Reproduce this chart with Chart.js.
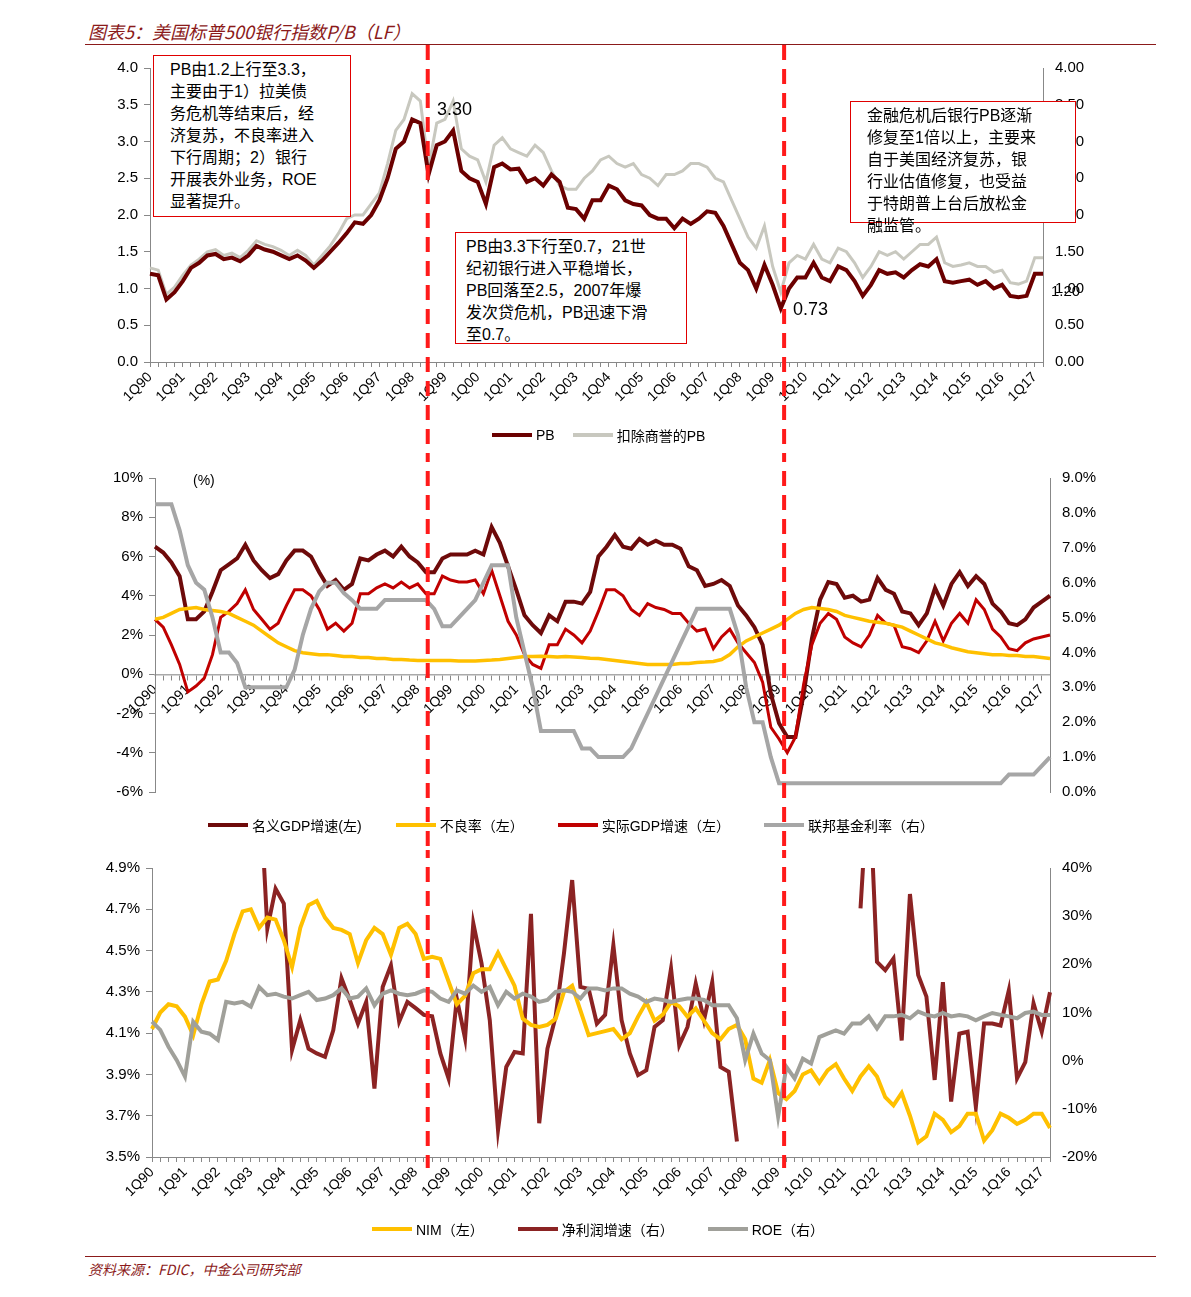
<!DOCTYPE html>
<html>
<head>
<meta charset="utf-8">
<script src="https://cdn.jsdelivr.net/npm/chart.js@4"></script>
<style>
  body { margin: 0; background: #fff; font-family: "Liberation Sans", Arial, "Noto Sans CJK SC", sans-serif; }
  #page { position: relative; width: 1191px; height: 1297px; overflow: hidden; }
  .cv { position: absolute; left: 0; width: 1191px; }
  .title { position: absolute; left: 88px; top: 18px; font-size: 18px; font-style: italic; color: #8b1a1a; font-family: "Noto Sans CJK SC", sans-serif; }
  .rule { position: absolute; left: 85px; width: 1071px; height: 0; border-top: 1px solid #8b1a1a; }
  .src { position: absolute; left: 88px; top: 1259px; font-size: 14px; font-style: italic; color: #8b1a1a; font-family: "Noto Sans CJK SC", sans-serif; }
  .note { position: absolute; background: #fff; border: 1px solid #e00000; font-size: 16px; line-height: 22px; padding: 3px 0 0 16px; box-sizing: border-box; white-space: nowrap; font-family: "Liberation Sans", "Noto Sans CJK SC", sans-serif; z-index: 5; }
  .lbl { position: absolute; font-size: 18px; z-index: 4; }
  .legend { position: absolute; font-size: 14px; display: flex; align-items: center; font-family: "Liberation Sans", "Noto Sans CJK SC", sans-serif; }
  .legend span.sw { display: inline-block; width: 40px; height: 4px; margin-right: 4px; }
</style>
</head>
<body>
<div id="page">
  <div class="title">图表5：美国标普500银行指数P/B（LF）</div>
  <div class="rule" style="top:44px"></div>
  <canvas id="c1" class="cv" style="top:45px"></canvas>
  <canvas id="c2" class="cv" style="top:460px"></canvas>
  <canvas id="c3" class="cv" style="top:850px"></canvas>

  <div class="note" style="left:153px;top:55px;width:198px;height:162px">PB由1.2上行至3.3，<br>主要由于1）拉美债<br>务危机等结束后，经<br>济复苏，不良率进入<br>下行周期；2）银行<br>开展表外业务，ROE<br>显著提升。</div>
  <div class="note" style="left:455px;top:232px;width:232px;height:112px;padding-left:10px">PB由3.3下行至0.7，21世<br>纪初银行进入平稳增长，<br>PB回落至2.5，2007年爆<br>发次贷危机，PB迅速下滑<br>至0.7。</div>
  <div class="note" style="left:850px;top:101px;width:226px;height:122px;overflow:visible;padding-left:16px">金融危机后银行PB逐渐<br>修复至1倍以上，主要来<br>自于美国经济复苏，银<br>行业估值修复，也受益<br>于特朗普上台后放松金<br>融监管。</div>
  <div class="lbl" style="left:437px;top:99px">3.30</div>
  <div class="lbl" style="left:793px;top:299px">0.73</div>
  <div class="lbl" style="left:1051px;top:282px;font-size:15px">1.20</div>
  <div class="lbl" style="left:193px;top:472px;font-size:14px">(%)</div>

  <div class="legend" style="left:492px;top:425px">
    <span class="sw" style="background:#6b0000"></span>PB
    <span class="sw" style="background:#c8c8bf;margin-left:18px"></span>扣除商誉的PB
  </div>
  <div class="legend" style="left:208px;top:815px">
    <span class="sw" style="background:#6e0a0a"></span>名义GDP增速(左)
    <span class="sw" style="background:#ffc000;margin-left:34px"></span>不良率（左）
    <span class="sw" style="background:#c00000;margin-left:34px"></span>实际GDP增速（左）
    <span class="sw" style="background:#a6a6a6;margin-left:34px"></span>联邦基金利率（右）
  </div>
  <div class="legend" style="left:372px;top:1219px">
    <span class="sw" style="background:#ffc000"></span>NIM（左）
    <span class="sw" style="background:#8b2323;margin-left:34px"></span>净利润增速（右）
    <span class="sw" style="background:#a0a09a;margin-left:34px"></span>ROE（右）
  </div>

  <div class="rule" style="top:1256px"></div>
  <div class="src">资料来源：FDIC，中金公司研究部</div>
</div>
<script>
'use strict';

// quarter categories 1Q90 .. 2Q17
const quarters = [];
for (let y = 1990; y <= 2017; y++) {
    for (let q = 1; q <= 4; q++) {
        if (y === 2017 && q > 2) break;
        quarters.push(q + 'Q' + String(y).slice(2));
    }
}
// positions of the red dashed crisis markers (category index on the P/B panel)
const crisisIdx = [33.9, 77.4];

const pb = [
    1.2,1.18,0.85,0.95,1.1,1.28,1.35,1.45,1.47,1.4,
    1.42,1.37,1.45,1.58,1.53,1.5,1.45,1.4,1.45,1.38,
    1.28,1.38,1.5,1.62,1.75,1.9,1.88,2.0,2.2,2.5,
    2.9,3.0,3.3,3.25,2.55,2.95,3.0,3.15,2.6,2.5,
    2.45,2.15,2.65,2.7,2.62,2.63,2.45,2.5,2.4,2.55,
    2.45,2.1,2.08,1.95,2.2,2.2,2.4,2.35,2.2,2.15,
    2.13,2.0,1.95,1.95,1.82,1.95,1.88,1.95,2.05,2.03,
    1.85,1.6,1.35,1.25,1.0,1.32,1.05,0.73,1.0,1.15,
    1.15,1.35,1.15,1.1,1.3,1.25,1.1,0.9,1.05,1.25,
    1.2,1.22,1.15,1.25,1.33,1.3,1.4,1.1,1.08,1.1,
    1.12,1.05,1.1,1.0,1.05,0.9,0.88,0.9,1.2,1.2
];
const pbExGoodwill = [
    1.28,1.25,0.92,1.02,1.18,1.32,1.4,1.5,1.53,1.45,
    1.48,1.42,1.52,1.65,1.6,1.57,1.52,1.45,1.52,1.45,
    1.32,1.45,1.58,1.75,1.95,2.0,2.0,2.15,2.3,2.7,
    3.15,3.3,3.65,3.55,2.65,3.25,3.3,3.55,2.9,2.8,
    2.75,2.45,2.95,3.05,2.9,2.85,2.8,2.95,2.85,2.6,
    2.4,2.35,2.35,2.5,2.6,2.75,2.8,2.7,2.65,2.7,
    2.55,2.5,2.4,2.55,2.55,2.6,2.7,2.7,2.65,2.5,
    2.45,2.2,1.95,1.7,1.55,1.85,1.3,0.95,1.35,1.45,
    1.4,1.6,1.4,1.35,1.55,1.5,1.35,1.15,1.3,1.5,
    1.45,1.5,1.4,1.5,1.6,1.6,1.7,1.35,1.3,1.32,
    1.35,1.3,1.3,1.22,1.25,1.08,1.06,1.1,1.42,1.42
];

const nominalGdp = [
    6.5,6.2,5.7,5.0,2.8,2.8,3.2,4.2,5.3,5.6,
    5.9,6.6,5.8,5.3,4.9,5.1,5.8,6.3,6.3,6.0,
    5.2,4.5,4.8,4.3,4.6,5.9,5.8,6.1,6.3,6.0,
    6.5,6.0,5.7,5.2,5.2,5.9,6.1,6.1,6.1,6.3,
    6.1,7.5,6.7,5.5,4.3,3.0,2.5,2.1,3.0,2.7,
    3.7,3.7,3.6,4.2,6.0,6.5,7.1,6.5,6.4,6.9,
    6.6,6.8,6.6,6.6,6.4,5.5,5.3,4.5,4.6,4.8,
    4.5,3.5,3.0,2.4,1.5,-1.0,-2.5,-3.2,-3.2,-1.0,
    1.8,3.8,4.7,4.6,3.9,4.0,3.7,3.8,4.9,4.3,
    4.1,3.2,3.1,2.5,3.1,4.4,3.5,4.6,5.2,4.5,
    5.0,4.6,3.6,3.2,2.6,2.5,2.8,3.4,3.7,4.0
];
const nplRatio = [
    2.8,2.9,3.1,3.3,3.35,3.4,3.3,3.25,3.2,3.1,
    2.9,2.7,2.5,2.2,1.9,1.6,1.4,1.2,1.1,1.05,
    1.0,1.0,0.95,0.9,0.9,0.85,0.85,0.8,0.8,0.75,
    0.75,0.72,0.7,0.7,0.7,0.7,0.7,0.68,0.68,0.68,
    0.7,0.72,0.75,0.8,0.85,0.9,0.9,0.92,0.9,0.88,
    0.9,0.88,0.85,0.82,0.8,0.75,0.7,0.65,0.6,0.55,
    0.5,0.5,0.5,0.5,0.55,0.55,0.6,0.62,0.65,0.75,
    1.0,1.4,1.7,1.9,2.1,2.3,2.5,2.8,3.1,3.3,
    3.4,3.35,3.3,3.2,3.0,2.9,2.8,2.7,2.65,2.6,
    2.5,2.4,2.2,2.0,1.8,1.6,1.5,1.35,1.25,1.15,
    1.1,1.05,1.0,1.0,0.95,0.95,0.9,0.9,0.85,0.8
];
const realGdp = [
    2.8,2.4,1.5,0.5,-0.9,-0.6,-0.2,1.0,2.9,3.2,
    3.6,4.3,3.3,2.8,2.3,2.6,3.5,4.3,4.3,4.0,
    3.3,2.3,2.6,2.2,2.6,4.1,4.1,4.4,4.6,4.4,
    4.7,4.4,4.6,4.1,4.1,5.0,4.8,4.7,4.7,4.8,
    4.1,5.3,4.0,2.7,2.0,1.0,0.5,0.3,1.5,1.5,
    2.3,2.0,1.6,2.2,3.2,4.3,4.3,4.0,3.3,3.0,
    3.6,3.4,3.3,3.1,3.1,2.6,2.2,2.3,1.3,1.9,
    2.3,1.6,1.1,0.6,-0.4,-2.7,-3.3,-4.0,-3.2,-0.5,
    1.5,2.6,3.1,2.8,1.9,1.6,1.4,2.0,3.0,2.6,
    2.5,1.4,1.3,1.1,1.7,2.7,1.7,2.6,3.1,2.6,
    3.8,3.3,2.3,1.9,1.3,1.2,1.6,1.8,1.9,2.0
];
const fedFunds = [
    8.25,8.25,8.25,7.5,6.5,6.0,5.8,5.0,4.0,4.0,
    3.7,3.0,3.0,3.0,3.0,3.0,3.0,3.5,4.5,5.25,
    5.75,6.0,6.0,5.7,5.5,5.25,5.25,5.25,5.5,5.5,
    5.5,5.5,5.5,5.5,5.25,4.75,4.75,5.0,5.25,5.5,
    6.0,6.5,6.5,6.5,5.0,4.0,3.0,1.75,1.75,1.75,
    1.75,1.75,1.25,1.25,1.0,1.0,1.0,1.0,1.25,1.75,
    2.25,2.75,3.25,3.75,4.25,4.75,5.25,5.25,5.25,5.25,
    5.25,4.5,3.0,2.0,2.0,1.0,0.25,0.25,0.25,0.25,
    0.25,0.25,0.25,0.25,0.25,0.25,0.25,0.25,0.25,0.25,
    0.25,0.25,0.25,0.25,0.25,0.25,0.25,0.25,0.25,0.25,
    0.25,0.25,0.25,0.25,0.5,0.5,0.5,0.5,0.75,1.0
];

const nim = [
    4.12,4.2,4.24,4.23,4.18,4.09,4.24,4.35,4.36,4.45,
    4.58,4.69,4.7,4.61,4.66,4.65,4.55,4.42,4.61,4.72,
    4.74,4.66,4.61,4.6,4.58,4.44,4.55,4.61,4.58,4.48,
    4.61,4.63,4.58,4.46,4.47,4.46,4.35,4.24,4.28,4.39,
    4.41,4.41,4.49,4.41,4.33,4.17,4.14,4.13,4.14,4.17,
    4.3,4.33,4.21,4.09,4.1,4.11,4.12,4.07,4.1,4.18,
    4.25,4.16,4.19,4.25,4.23,4.18,4.22,4.16,4.1,4.07,
    4.12,4.14,4.07,3.88,3.86,3.97,3.81,3.78,3.82,3.9,
    3.92,3.86,3.92,3.95,3.88,3.82,3.89,3.94,3.89,3.79,
    3.75,3.81,3.7,3.57,3.6,3.71,3.68,3.62,3.65,3.71,
    3.71,3.58,3.63,3.71,3.69,3.66,3.68,3.71,3.71,3.64
];
const profitGrowth = [
    null,null,null,null,null,null,null,null,null,null,
    null,null,null,60,27.4,35.7,32.6,2.2,8.4,2.5,
    1.5,0.8,6.3,17.1,12.6,7.7,12.2,-5.8,15.3,19.8,
    8.1,12.2,10.9,9.5,9.2,1.5,-3.7,12.9,4.6,28.5,
    20.2,8.4,-14.4,-1.3,1.8,1.5,30.5,-13.0,2.5,9.2,
    22.2,37.5,15.3,14.9,7.7,9.5,24.0,8.4,1.5,-3.0,
    -2.0,7.0,8.4,19.1,3.2,7.0,16.0,8.4,16.3,-1.3,
    -2.3,-16.8,null,null,null,null,null,null,null,null,
    null,null,null,null,null,null,31.6,60,20.5,18.8,
    21.2,4.2,34.6,17.8,13.3,-4.0,16.3,-8.5,5.6,6.0,
    -9.6,7.7,7.7,7.3,14.6,-3.7,-0.3,11.9,6.0,14.2
];
const roe = [
    8.1,6.4,2.9,0.1,-3.3,8.1,6.0,5.6,4.3,12.2,
    11.9,12.2,11.2,15.3,13.6,13.9,13.3,12.9,13.6,14.3,
    12.6,12.9,13.6,15.0,12.9,13.3,15.0,11.5,13.9,14.6,
    13.9,13.6,13.9,14.6,14.3,12.9,12.2,14.6,13.9,15.6,
    14.3,15.3,11.5,14.3,12.9,13.9,13.3,12.2,12.6,14.3,
    14.6,14.3,12.9,15.0,15.0,14.6,15.0,15.0,13.9,13.3,
    12.2,12.9,12.6,12.2,12.6,12.9,12.9,12.6,11.5,11.5,
    11.5,8.8,0.1,5.6,1.5,0.1,-11.6,-1.3,-3.7,0.4,
    -0.6,4.9,5.6,6.3,5.6,7.7,7.7,9.2,6.7,9.2,
    9.2,9.5,8.8,10.2,9.5,9.2,9.9,9.2,9.5,9.2,
    8.4,9.2,9.9,9.5,9.2,8.8,9.9,10.2,9.5,9.5
];

Chart.defaults.font.family = '"Liberation Sans", Arial, sans-serif';
Chart.defaults.font.size = 15;
Chart.defaults.color = '#000';
Chart.defaults.animation = false;

// the dashed markers run through all three panels at the same page x,
// so take the pixels from the first chart and reuse them below
let crisisPx = null;
const crisisLines = {
    id: 'crisisLines',
    afterDraw(chart, args, opts) {
        const ctx = chart.ctx;
        if (!crisisPx) crisisPx = crisisIdx.map(i => chart.scales.x.getPixelForValue(i));
        ctx.save();
        ctx.strokeStyle = '#ff1a1a';
        ctx.lineWidth = 4;
        ctx.setLineDash([15, 9]);
        ctx.lineDashOffset = opts.dashOffset || 0;
        crisisPx.forEach(px => {
            ctx.beginPath();
            ctx.moveTo(px, opts.top || 0);
            ctx.lineTo(px, opts.bottom || chart.height);
            ctx.stroke();
        });
        ctx.restore();
    }
};

function line(data, color, width, axis) {
    return { data, borderColor: color, borderWidth: width, pointRadius: 0, tension: 0, yAxisID: axis, spanGaps: false };
}

function xAxis(extra) {
    return Object.assign({
        type: 'category',
        offset: false,
        border: { color: '#888', width: 1 },
        grid: { display: true, drawOnChartArea: false, tickLength: 5, color: '#888' },
        ticks: {
            autoSkip: false, maxRotation: 45, minRotation: 45, padding: 2,
            font: { size: 14 },
            callback: (v, i) => (i % 4 === 0 ? quarters[i] : '')
        }
    }, extra);
}

function yAxis(pos, min, max, step, fmt, width) {
    return {
        position: pos, min, max,
        border: { color: '#888', width: 1 },
        grid: { display: pos === 'left', drawOnChartArea: false, tickLength: 6, color: '#888' },
        ticks: { stepSize: step, callback: fmt, padding: 6 },
        afterFit: s => { s.width = width; }
    };
}

function make(id, h, datasets, scales, padding, dashOpts) {
    const cv = document.getElementById(id);
    cv.style.height = h + 'px';
    cv.width = 1191; cv.height = h;
    return new Chart(cv, {
        type: 'line',
        data: { labels: quarters, datasets },
        options: {
            responsive: false,
            layout: { padding },
            plugins: { legend: { display: false }, tooltip: { enabled: false }, crisisLines: dashOpts },
            scales
        },
        plugins: [crisisLines]
    });
}

// panel 1: P/B
make('c1', 415, [
    line(pb, '#6b0000', 4, 'y'),
    line(pbExGoodwill, '#c8c8bf', 3, 'y2')
], {
    x: xAxis({ afterFit: s => { s.height = 98; } }),
    y: yAxis('left', 0, 4, 0.5, v => v.toFixed(1), 150),
    y2: yAxis('right', 0, 4, 0.5, v => v.toFixed(2), 148)
}, { top: 23, bottom: 0, left: 0, right: 0 }, { top: 0, bottom: 415 });

// panel 2: macro
make('c2', 390, [
    line(fedFunds, '#a6a6a6', 4, 'y2'),
    line(nplRatio, '#ffc000', 3.5, 'y'),
    line(realGdp, '#c00000', 3, 'y'),
    line(nominalGdp, '#6e0a0a', 4, 'y')
], {
    x: xAxis({ position: { y: 0 }, border: { color: '#aaa', width: 1.5 } }),
    y: yAxis('left', -6, 10, 2, v => v + '%', 155),
    y2: yAxis('right', 0, 9, 1, v => v.toFixed(1) + '%', 141)
}, { top: 18, bottom: 58, left: 0, right: 0 }, { top: 0, bottom: 390, dashOffset: 13 });

// panel 3: bank profitability
make('c3', 400, [
    line(roe, '#a0a09a', 4, 'y2'),
    line(nim, '#ffc000', 4, 'y'),
    line(profitGrowth, '#8b2323', 4, 'y2')
], {
    x: xAxis({ afterFit: s => { s.height = 93; } }),
    y: yAxis('left', 3.5, 4.9, 0.2, v => v.toFixed(1) + '%', 152),
    y2: yAxis('right', -20, 40, 10, v => v + '%', 141)
}, { top: 18, bottom: 0, left: 0, right: 0 }, { top: 0, bottom: 318, dashOffset: 7 });
</script>
</body>
</html>
